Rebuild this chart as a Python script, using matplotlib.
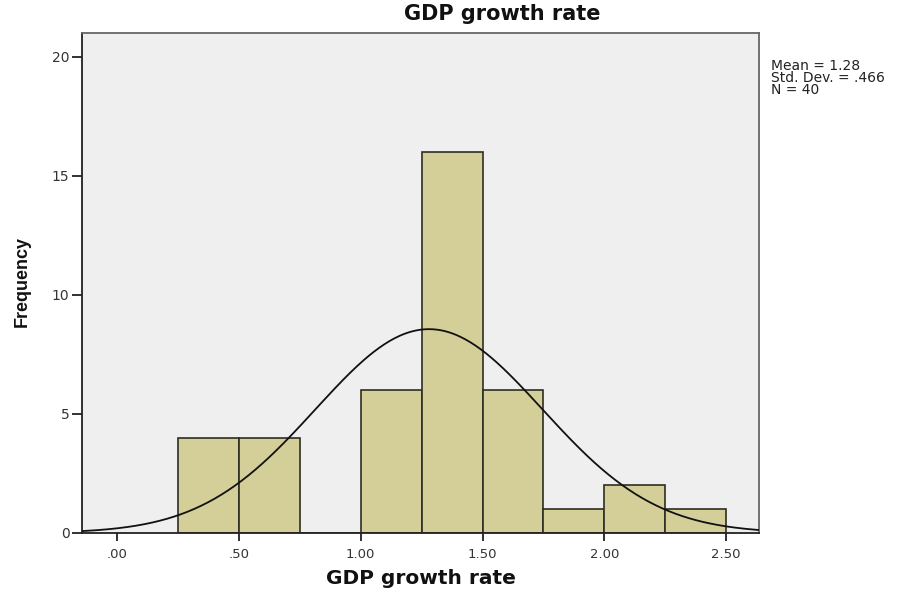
import numpy as np
import matplotlib
matplotlib.use("Agg")
import matplotlib.pyplot as plt

# histogram of GDP growth rate, bins of width .25
bin_edges = [0.25, 0.50, 0.75, 1.00, 1.25, 1.50, 1.75, 2.00, 2.25, 2.50]
counts = [4, 4, 0, 6, 16, 6, 1, 2, 1]
mean = 1.28
std_dev = 0.466
n_cases = sum(counts)

x_ticks = [0.0, 0.5, 1.0, 1.5, 2.0, 2.5]
x_tick_labels = [".00", ".50", "1.00", "1.50", "2.00", "2.50"]
y_ticks = [0, 5, 10, 15, 20]


def create_plot():
	fig = plt.figure(figsize=(9.04, 5.94), dpi=100)
	ax = fig.add_axes([0.0907, 0.1027, 0.749, 0.8418])
	ax.set_facecolor("#efefef")

	lefts = bin_edges[:-1]
	widths = np.diff(bin_edges)
	ax.bar(lefts, counts, width=widths, align="edge", color="#d4cf99",
		edgecolor="#2e2e22", linewidth=1.2, zorder=2)

	# normal curve scaled to the histogram
	xmin, xmax = -0.144, 2.635
	xs = np.linspace(xmin, xmax, 400)
	bw = widths[0]
	ys = n_cases * bw / (std_dev * np.sqrt(2 * np.pi)) * np.exp(-0.5 * ((xs - mean) / std_dev) ** 2)
	ax.plot(xs, ys, color="#111111", linewidth=1.3, zorder=3)

	ax.set_xlim(xmin, xmax)
	ax.set_ylim(0, 21.0)
	ax.set_xticks(x_ticks)
	ax.set_xticklabels(x_tick_labels)
	ax.set_yticks(y_ticks)
	ax.tick_params(axis="x", direction="out", length=6, width=1.3, color="#222222",
		pad=5, labelsize=9.5, labelcolor="#333333")
	ax.tick_params(axis="y", direction="out", length=7, width=1.3, color="#222222",
		pad=2, labelsize=10, labelcolor="#333333")

	for side in ["left", "bottom"]:
		ax.spines[side].set_color("#222222")
		ax.spines[side].set_linewidth(1.3)
	for side in ["top", "right"]:
		ax.spines[side].set_color("#666666")
		ax.spines[side].set_linewidth(1.3)

	fig.text(0.556, 1 - 14 / 594, "GDP growth rate", ha="center", va="center",
		fontsize=15, fontweight="bold", color="#111111")
	fig.text(421 / 904, 1 - 578 / 594, "GDP growth rate", ha="center", va="center",
		fontsize=14.5, fontweight="bold", color="#111111")
	fig.text(22 / 904, 1 - 282 / 594, "Frequency", ha="center", va="center", rotation=90,
		fontsize=13, fontweight="bold", color="#111111", family="Liberation Sans")

	stats = ["Mean = %.2f" % mean, "Std. Dev. = %s" % ("%.3f" % std_dev).lstrip("0"), "N = %d" % n_cases]
	fig.text(771 / 904, 1 - 78 / 594, "\n".join(stats), ha="left", va="center",
		fontsize=10, linespacing=0.78, color="#222222")

	plt.savefig("out.png", dpi=100)


create_plot()
